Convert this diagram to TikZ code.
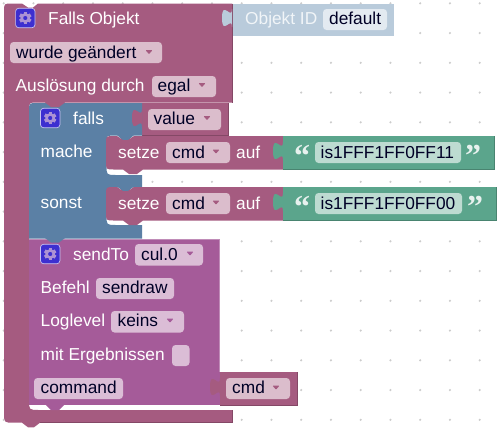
\documentclass[tikz,border=0pt]{standalone}
\usepackage{fontspec}
\setmainfont{Liberation Sans}
\newfontfamily\qfont{Liberation Serif}
\definecolor{mauve}{HTML}{A55B80}
\definecolor{mauveD}{HTML}{844866}
\definecolor{mauveL}{HTML}{C08FA8}
\definecolor{bluek}{HTML}{5B80A5}
\definecolor{purp}{HTML}{A55B99}
\definecolor{purpL}{HTML}{C08CB8}
\definecolor{teal}{HTML}{5BA58C}
\definecolor{tealD}{HTML}{498470}
\definecolor{lightb}{HTML}{B9CBDB}
\definecolor{fieldp}{HTML}{DBBDCC}
\definecolor{fieldq}{HTML}{DBBDD6}
\definecolor{fieldt}{HTML}{BDDBD1}
\definecolor{fieldb}{HTML}{E3EAF1}
\definecolor{gearbg}{HTML}{3D2FD0}
\definecolor{dotc}{HTML}{CCCCCC}
\tikzset{
  x=1pt,y=-1pt,
  lbl/.style={inner sep=0pt,anchor=base west,text=white,font=\fontsize{17.3}{20}\selectfont},
  fld/.style={inner sep=0pt,anchor=base west,text=black!85!blue,font=\fontsize{17.3}{20}\selectfont},
  qt/.style={inner sep=0pt,anchor=base,text=white!85!teal,font=\fontsize{32}{32}\qfont\bfseries},
  edge/.style={mauveD,line width=0.8pt},
}
\newcommand\fieldbox[5]{\fill[#5,rounded corners=3.5pt] (#1,#2) rectangle (#3,#4);}
\newcommand\ddtri[3]{\fill[#3,rounded corners=0.6pt] (#1-3.4,#2-1.8) -- (#1+3.4,#2-1.8) -- (#1,#2+2.2) -- cycle;}
\newcommand\puzzletab[3]{\fill[#3] (#1,#2) .. controls (#1,#2+12) and (#1-10,#2-10) .. (#1-10,#2+9)
  .. controls (#1-10,#2+28) and (#1,#2+6) .. (#1,#2+18) -- cycle;}
\newcommand\gearicon[2]{%
  \fill[gearbg,draw=white!70!gearbg,line width=0.7pt,rounded corners=3pt] (#1-9.7,#2-9.7) rectangle (#1+9.7,#2+9.7);
  \foreach \a in {0,60,...,300}{\fill[fieldq!70!gearbg,rotate around={\a:(#1,#2)}] (#1-1.7,#2-6.2) rectangle (#1+1.7,#2-3);}
  \fill[fieldq!70!gearbg,even odd rule] (#1,#2) circle[radius=5] (#1,#2) circle[radius=2.2];}
\begin{document}
\begin{tikzpicture}
\useasboundingbox (0,0) rectangle (504,429);
\fill[white] (0,0) rectangle (504,429);
% grid dots
\foreach \i in {0,...,16}\foreach \j in {0,...,14}{
  \fill[dotc] ({3.7+\i*29.75},{3.3+\j*29.75}) circle[radius=1.2];}
% Objekt ID
\fill[lightb] (232,3.5) rectangle (394,36);
\fieldbox{323}{9}{387}{30}{fieldb}
% outer block
\fill[mauve] (12,3.5) -- (22,3.5) -- (28,7.5) -- (33,7.5) -- (38,3.5) -- (232,3.5) -- (232,102.5) -- (65,102.5) -- (59,107) -- (51,107) -- (45,102.5) -- (37,102.5)
  .. controls (29,102.5) .. (29,111) -- (29,400) .. controls (29,410) .. (39,410) -- (232,410) -- (232,422.7) -- (40,422.7) -- (34,427.3) -- (28,427.3) -- (22,422.7) -- (14,422.7)
  .. controls (4,422.7) .. (4,412.7) -- (4,11.5) .. controls (4,3.5) .. (12,3.5) -- cycle;
\draw[edge] (232,3.5) -- (232,102.5);
\draw[edge] (232,410) -- (232,422.7) -- (40,422.7);
% value
\fill[mauve] (142,103) rectangle (228,135.5);
\draw[edge] (228,103) -- (228,135.5) -- (142,135.5);
% falls block
\fill[bluek] (37,103) -- (142,103) -- (142,135.5) -- (115,135.5) .. controls (106.5,135.5) .. (106.5,144) -- (106.5,165) .. controls (106.5,175) .. (116,175) -- (142,175) -- (142,187.5) -- (115,187.5) .. controls (106.5,187.5) .. (106.5,196) -- (106.5,215) .. controls (106.5,225) .. (116,225) -- (142,225) -- (142,238.5) -- (29,238.5) -- (29,111) .. controls (29,103) .. (37,103) -- cycle;
\fill[mauve] (45,102.5) -- (51,107) -- (59,107) -- (65,102.5) -- cycle;
% sendTo
\fill[purp] (29,239) -- (219.5,239) -- (219.5,405) -- (29,405) -- cycle;
\fill[purp] (45,404) -- (65,404) -- (59,410) -- (51,410) -- cycle;
\draw[purpL,line width=0.7pt] (29,239) -- (219.5,239) -- (219.5,372);
\fill[bluek] (45,238) -- (65,238) -- (59,242.5) -- (51,242.5) -- cycle;
% setze blocks
\foreach \yy in {136,187}{
  \fill[bluek] (117,\yy-1) -- (123,\yy+4.5) -- (128,\yy+4.5) -- (134,\yy-1) -- cycle;
  \fill[mauve] (114,\yy) -- (117,\yy) -- (123,\yy+4) -- (128,\yy+4) -- (134,\yy) -- (283,\yy) -- (283,\yy+33.5) -- (143,\yy+33.5) -- (137,\yy+38) -- (129,\yy+38) -- (123,\yy+33.5) -- (114,\yy+33.5)
    .. controls (106,\yy+33.5) .. (106,\yy+25.5) -- (106,\yy+8) .. controls (106,\yy) .. (114,\yy) -- cycle;
}
% strings
\fill[teal] (283,136) rectangle (494,169.5);
\fill[teal] (283,187) rectangle (496,220.5);
\draw[tealD,line width=0.8pt] (283,169.5) -- (494,169.5) -- (494,136);
\draw[tealD,line width=0.8pt] (283,220.5) -- (496,220.5) -- (496,187);
% cmd
\fill[mauve] (220,372) rectangle (297,405);
\draw[edge] (297,372) -- (297,405) -- (220,405);
% tabs
\puzzletab{232}{9}{lightb}
\puzzletab{142}{109}{mauve}
\puzzletab{283}{142}{teal}
\puzzletab{283}{193}{teal}
\puzzletab{220}{378}{mauve}
% field boxes
\fieldbox{10}{42}{162}{63}{fieldp}
\fieldbox{152}{76}{216}{97}{fieldp}
\fieldbox{148}{109}{221}{130}{fieldp}
\fieldbox{166}{142}{230}{163}{fieldp}
\fieldbox{166}{193}{230}{214}{fieldp}
\fieldbox{315}{142}{461}{163}{fieldt}
\fieldbox{315}{193}{462}{214}{fieldt}
\fieldbox{135}{244}{203}{265.5}{fieldq}
\fieldbox{96}{278}{174}{299}{fieldq}
\fieldbox{111}{311}{184}{332.5}{fieldq}
\fieldbox{172}{345}{189.5}{366}{fieldq}
\fieldbox{34}{378}{123}{399}{fieldq}
\fieldbox{226}{378}{290}{399}{fieldp}
% gears
\gearicon{25.3}{18}
\gearicon{50.2}{118}
\gearicon{50.2}{254}
% labels
\node[lbl] (t1) at (48,24) {Falls Objekt};
\node[lbl,text=white!80!lightb] (t2) at (245,24) {Objekt ID};
\node[fld] (t3) at (329,24) {default};
\node[fld] (t4) at (16,58) {wurde geändert};
\node[lbl] (t5) at (15.5,91) {Auslösung durch};
\node[fld] (t6) at (157.5,91) {egal};
\node[lbl] (t7) at (73,124) {falls};
\node[fld] (t8) at (153.5,124) {value};
\node[lbl] (t9) at (40.5,157) {mache};
\node[lbl] (t10) at (40.5,208) {sonst};
\node[lbl] (t11) at (118,158) {setze};
\node[fld] (t12) at (172,158) {cmd};
\node[lbl] (t13) at (236,158) {auf};
\node[lbl] (t14) at (118,209) {setze};
\node[fld] (t15) at (172,209) {cmd};
\node[lbl] (t16) at (236,209) {auf};
\node[fld] (t17) at (320.5,158) {is1FFF1FF0FF11};
\node[fld] (t18) at (320.5,209) {is1FFF1FF0FF00};
\node[qt] (q1) at (302,166) {“};
\node[qt] (q2) at (473,166) {”};
\node[qt] (q3) at (302,217) {“};
\node[qt] (q4) at (475,217) {”};
\node[lbl] (t19) at (73,260) {sendTo};
\node[fld] (t20) at (141,260) {cul.0};
\node[lbl] (t21) at (40.5,293) {Befehl};
\node[fld] (t22) at (102,293) {sendraw};
\node[lbl] (t23) at (40.5,326) {Loglevel};
\node[fld] (t24) at (117.5,326) {keins};
\node[lbl] (t25) at (40.5,360) {mit Ergebnissen};
\node[fld] (t26) at (40.5,393) {command};
\node[fld] (t27) at (232,393) {cmd};
% dropdown arrows
\ddtri{149}{52}{mauve}
\ddtri{202}{85}{mauve}
\ddtri{207}{118}{mauve}
\ddtri{216}{151.5}{mauve}
\ddtri{216}{202.5}{mauve}
\ddtri{190}{253.5}{purp}
\ddtri{170}{320.5}{purp}
\ddtri{276}{387.5}{mauve}
\end{tikzpicture}
\end{document}
